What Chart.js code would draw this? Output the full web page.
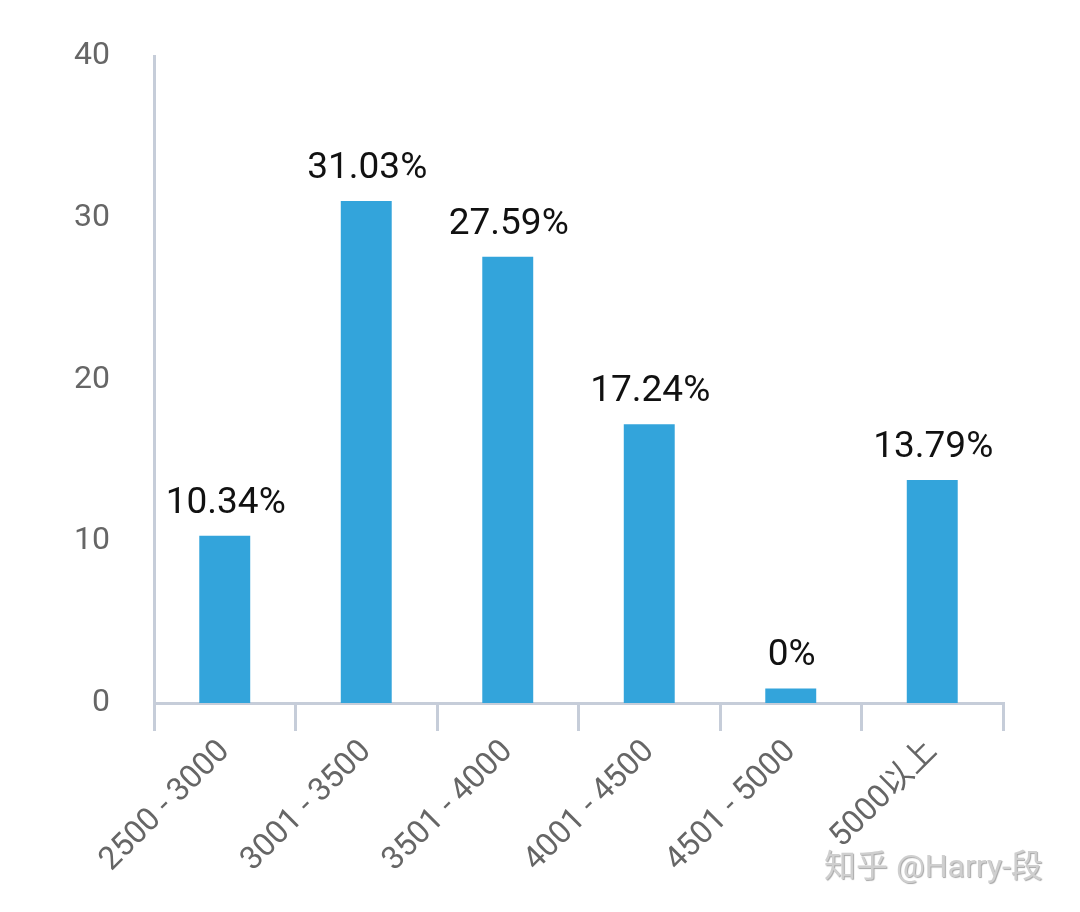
<!DOCTYPE html>
<html>
<head>
<meta charset="utf-8">
<script src="https://cdn.jsdelivr.net/npm/chart.js@4/dist/chart.umd.min.js"></script>
<style>
  html, body { margin: 0; padding: 0; background: #fff; }
  #wrap { position: relative; width: 1080px; height: 912px; }
  #watermark {
    position: absolute; left: 824px; top: 840px;
    font: 32px Roboto, "Noto Sans CJK SC", sans-serif;
    color: #cfcfcf;
    text-shadow: 1px 1px 1px rgba(0,0,0,0.35);
    white-space: nowrap;
  }
</style>
</head>
<body>
<div id="wrap">
  <canvas id="chart" width="1080" height="912"></canvas>
  <div id="watermark">知乎 @Harry-段</div>
</div>
<script>
// 数据
const categories = ["2500 - 3000", "3001 - 3500", "3501 - 4000", "4001 - 4500", "4501 - 5000", "5000以上"];
const values = [10.34, 31.03, 27.59, 17.24, 0.9, 13.79];
const valueLabels = ["10.34%", "31.03%", "27.59%", "17.24%", "0%", "13.79%"];
const yTicks = [0, 10, 20, 30, 40];

const axisColor = "#c6cdd9";
const fontFamily = "Roboto, 'Noto Sans CJK SC', sans-serif";

// 柱顶标签
const barLabels = {
  id: "barLabels",
  afterDatasetsDraw(chart) {
    const ctx = chart.ctx;
    const meta = chart.getDatasetMeta(0);
    ctx.save();
    ctx.font = "37px " + fontFamily;
    ctx.fillStyle = "#111";
    ctx.textAlign = "center";
    ctx.textBaseline = "alphabetic";
    meta.data.forEach((bar, i) => {
      ctx.fillText(valueLabels[i], bar.x + 1, bar.y - 23);
    });
    ctx.restore();
  }
};

new Chart(document.getElementById("chart"), {
  type: "bar",
  data: {
    labels: categories,
    datasets: [{
      data: values,
      backgroundColor: "#33a4db",
      barPercentage: 0.36,
      categoryPercentage: 1
    }]
  },
  options: {
    responsive: false,
    animation: false,
    layout: { padding: { left: 0, top: 56, right: 77, bottom: 0 } },
    plugins: {
      legend: { display: false },
      tooltip: { enabled: false }
    },
    scales: {
      y: {
        min: 0,
        max: 40,
        afterFit: (scale) => {
          scale.width = 154;
          scale.paddingTop = 0;
          scale.paddingBottom = 0;
        },
        afterBuildTicks: (scale) => { scale.ticks = yTicks.map(v => ({ value: v })); },
        grid: { display: false, drawTicks: false },
        border: { display: true, color: axisColor, width: 3 },
        ticks: {
          padding: 44,
          color: "#666",
          font: { family: fontFamily, size: 32 }
        }
      },
      x: {
        afterFit: (scale) => { scale.height = 209; },
        grid: {
          display: true,
          drawOnChartArea: false,
          drawTicks: true,
          tickLength: 28,
          color: axisColor,
          lineWidth: 3
        },
        border: { display: true, color: axisColor, width: 3 },
        ticks: {
          minRotation: 45,
          maxRotation: 45,
          padding: 2,
          color: "#666",
          font: { family: fontFamily, size: 32 }
        }
      }
    }
  },
  plugins: [barLabels]
});
</script>
</body>
</html>
